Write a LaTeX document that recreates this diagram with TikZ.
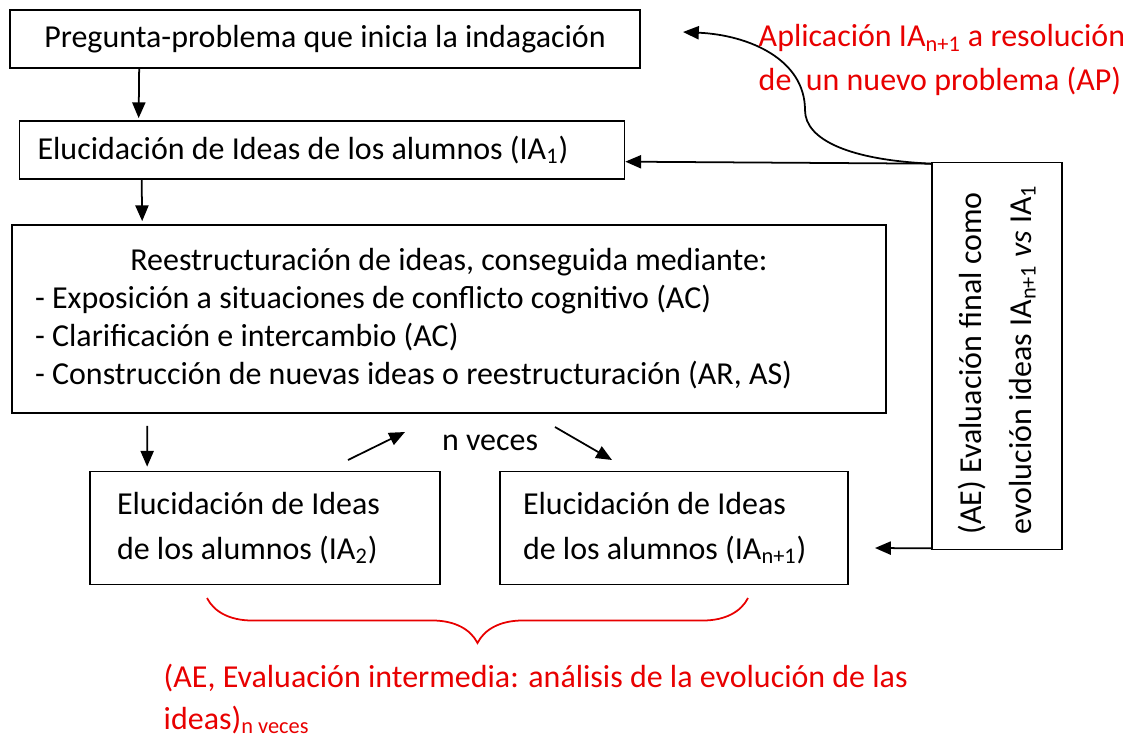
\documentclass[tikz,border=0pt]{standalone}
\usepackage{fontspec}
\setmainfont{Carlito}
\usetikzlibrary{arrows.meta,positioning,decorations.pathreplacing}
\definecolor{notered}{RGB}{232,0,0}

\begin{document}
\begin{tikzpicture}[x=0.02cm,y=-0.02cm,>={Triangle[length=9pt,width=7.5pt]},line width=1pt]
  \tikzstyle{box}=[draw,rectangle,inner sep=0pt,font=\fontsize{18.2}{21}\selectfont]
  \tikzstyle{note}=[text=notered,font=\fontsize{18.2}{25}\selectfont,align=flush left]

  \useasboundingbox (0,0) rectangle (1123,738);

  \node[box,minimum width=12.6cm,minimum height=1.16cm] (pregunta) at (325,39) {Pregunta-problema que inicia la indagación};
  \node[box,minimum width=12.1cm,minimum height=1.16cm,inner xsep=0.36cm,text width=11.38cm,align=flush left] (ideas1) at (322,150)
    {Elucidación de Ideas de los alumnos (IA\textsubscript{1})};
  \node[box,minimum width=17.48cm,minimum height=3.76cm,inner xsep=0.46cm,text width=16.56cm,align=flush left,
    font=\fontsize{18.2}{21.6}\selectfont] (reestr) at (449,319)
    {\makebox[\linewidth]{Reestructuración de ideas, conseguida mediante:}\\
     - Exposición a situaciones de conflicto cognitivo (AC)\\
     - Clarificación e intercambio (AC)\\
     - Construcción de nuevas ideas o reestructuración (AR, AS)};
  \node[box,minimum width=7cm,minimum height=2.26cm,inner xsep=0.54cm,text width=5.92cm,align=flush left,
    font=\fontsize{18.2}{25.5}\selectfont] (ideas2) at (265,528) {Elucidación de Ideas\\de los alumnos (IA\textsubscript{2})};
  \node[box,minimum width=6.96cm,minimum height=2.26cm,inner xsep=0.46cm,text width=6.04cm,align=flush left,
    font=\fontsize{18.2}{25.5}\selectfont] (ideasn) at (674,528) {Elucidación de Ideas\\de los alumnos (IA\textsubscript{n+1})};
  \node[box,minimum width=2.6cm,minimum height=7.74cm] (final) at (997,356) {};
  \node[rotate=90,anchor=west,align=flush left,font=\fontsize{18.2}{28}\selectfont] (finaltext) at (997,541)
    {(AE) Evaluación final como\\evolución ideas IA\textsubscript{n+1} \textit{vs} IA\textsubscript{1}};

  \node[font=\fontsize{18.2}{21}\selectfont] (nveces) at (490,443) {n veces};
  \node[note,anchor=west] (aplic) at (752,60) {Aplicación IA\textsubscript{n+1} a resolución\\de\ \ un nuevo problema (AP)};
  \node[note,anchor=west,font=\fontsize{18.2}{24}\selectfont] (intermedia) at (157,699)
    {(AE, Evaluación intermedia: análisis de la evolución de las\\ideas)\textsubscript{n veces}};

  \coordinate (upa) at (348,460);
  \coordinate (upb) at (405,432);
  \coordinate (downa) at (555,427);
  \coordinate (downb) at (612,460);
  \coordinate (nuevo) at (683,32);
  \coordinate (finalout) at (875,548);
  \coordinate (bracea) at (207,598);
  \coordinate (braceb) at (748,598);

  % flujo principal
  \draw[->] ([xshift=2.6cm]pregunta.south west) -- ([xshift=2.4cm,yshift=0.04cm]ideas1.north west);
  \draw[->] ([xshift=2.46cm]ideas1.south west) -- ([xshift=2.62cm,yshift=0.06cm]reestr.north west);
  \draw[->] ([xshift=2.72cm,yshift=-0.24cm]reestr.south west) -- ([xshift=1.16cm,yshift=0.08cm]ideas2.north west);
  \draw[->] (upa) -- (upb);
  \draw[->] (downa) -- (downb);

  % evaluacion final
  \draw[->] ([yshift=-0.04cm]final.north west) -- (ideas1.east |- final.north west);
  \draw[->] ([yshift=-0.04cm]final.north west) .. controls (850,160) and (805,140) .. (805,110)
    .. controls (805,60) and (750,35) .. (nuevo);
  \draw[->] ([yshift=0.04cm]final.south west) -- (finalout);

  \draw[notered,decorate,decoration={brace,mirror,amplitude=0.9cm}] (bracea) -- (braceb);
\end{tikzpicture}
\end{document}
